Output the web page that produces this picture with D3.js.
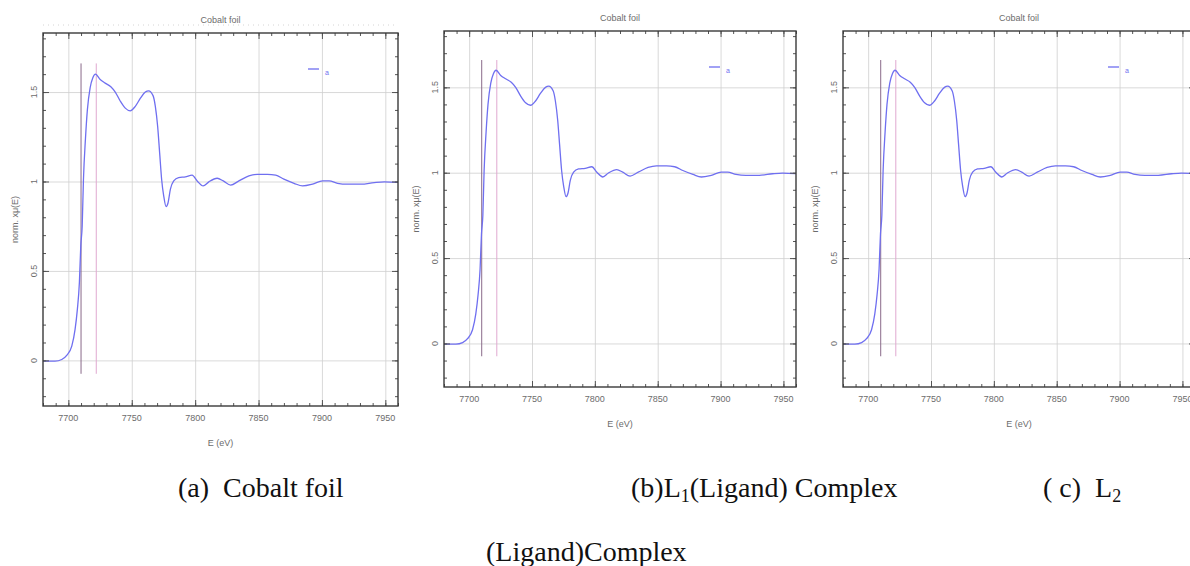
<!DOCTYPE html>
<html>
<head>
<meta charset="utf-8">
<script src="https://cdn.jsdelivr.net/npm/d3@7"></script>
<style>
  body { margin: 0; background: #fff; }
  svg { display: block; }
  .small { font-family: "Liberation Sans", Arial, sans-serif; font-size: 9px; fill: #6c6c6c; }
  .caption { font-family: "Liberation Serif", "Times New Roman", serif; font-size: 28px; fill: #111; }
</style>
</head>
<body>
<div id="root"></div>
<script>
// The same normalised Co K-edge trace is shown in all three panels
const energy = [7680, 7689.5, 7694.8, 7698.7, 7702.7, 7705.3, 7707.1, 7708.7, 7709.8, 7710.9,
  7711.9, 7713.5, 7715, 7717.2, 7719.3, 7721.4, 7725.1, 7729, 7733.5, 7737,
  7740.9, 7744.9, 7748.8, 7752.8, 7756.7, 7760.7, 7763.3, 7766.8, 7768.6, 7770.4,
  7772, 7773.6, 7775.2, 7777.1, 7778.6, 7780.5, 7783.1, 7787, 7792.3, 7797.6,
  7801.6, 7806.3, 7810.8, 7817.4, 7822.2, 7828, 7834.5, 7842.4, 7849, 7857,
  7863.5, 7870, 7878, 7884.7, 7892.6, 7900.5, 7905.7, 7912.3, 7920.2, 7930.8,
  7941.3, 7949.2, 7961];
const normMu = [-0.004, -0.004, 0.005, 0.028, 0.08, 0.173, 0.285, 0.435, 0.64, 0.75,
  1.01, 1.24, 1.40, 1.525, 1.58, 1.60, 1.57, 1.55, 1.53, 1.50,
  1.45, 1.41, 1.395, 1.42, 1.464, 1.50, 1.507, 1.48, 1.42, 1.31,
  1.16, 1.01, 0.92, 0.86, 0.88, 0.957, 1.003, 1.022, 1.026, 1.035,
  1.003, 0.975, 0.998, 1.018, 1.003, 0.98, 1.003, 1.031, 1.04, 1.04,
  1.035, 1.013, 0.99, 0.975, 0.985, 1.003, 1.003, 0.99, 0.985, 0.985,
  0.994, 0.998, 0.994];

const markerEnergies = [7710, 7722];   // vertical markers (E0 and peak)
const markerRange = [-0.075, 1.66];
const xTickValues = [7700, 7750, 7800, 7850, 7900, 7950];
const yTickValues = [0, 0.5, 1, 1.5];
const yTickLabels = ['0', '0.5', '1', '1.5'];
const xDomain = [7680, 7960];
const yDomain = [-0.255, 1.83];

const panelTitles = ['Cobalt foil', 'Cobalt foil', 'Cobalt foil'];
const legendLabels = ['a', 'a', 'a'];

// frame boxes of the three plots
const panels = [
  { left: 43, top: 33, width: 355, height: 373 },
  { left: 444, top: 31, width: 352, height: 356 },
  { left: 843, top: 31, width: 352, height: 356 },
];

const width = 1190;
const height = 566;

const svg = d3.select('#root')
  .append('svg')
  .attr('width', width)
  .attr('height', height);

const points = energy.map((e, i) => ({ e, v: normMu[i] }));

function drawPanel(box, idx) {
  const x = d3.scaleLinear().domain(xDomain).range([0, box.width]);
  const y = d3.scaleLinear().domain(yDomain).range([box.height, 0]);
  const g = svg.append('g').attr('transform', `translate(${box.left}, ${box.top})`);

  // faint dotted line above the first frame
  if (idx === 0) {
    g.append('line')
      .attr('x1', 0).attr('x2', box.width)
      .attr('y1', -8).attr('y2', -8)
      .attr('stroke', '#d4d4d4')
      .attr('stroke-dasharray', '1,4');
  }

  // grid
  const grid = g.append('g').attr('class', 'grid');
  grid.append('g')
    .attr('transform', `translate(0, ${box.height})`)
    .call(d3.axisBottom(x).tickValues(xTickValues).tickSize(-box.height).tickFormat(''));
  grid.append('g')
    .call(d3.axisLeft(y).tickValues(yTickValues).tickSize(-box.width).tickFormat(''));
  grid.selectAll('.domain').remove();
  grid.selectAll('line').attr('stroke', '#cfcfcf').attr('stroke-width', 0.8);

  // vertical markers
  const markerColors = ['#8a6a8a', '#e0a8d0'];
  markerEnergies.forEach((e, i) => {
    g.append('line')
      .attr('x1', x(e)).attr('x2', x(e))
      .attr('y1', y(markerRange[0])).attr('y2', y(markerRange[1]))
      .attr('stroke', markerColors[i])
      .attr('stroke-width', 1);
  });

  // trace
  const line = d3.line()
    .x(d => x(d.e))
    .y(d => y(d.v))
    .curve(d3.curveMonotoneX);
  const clipId = `clip${idx}`;
  g.append('clipPath').attr('id', clipId)
    .append('rect').attr('width', box.width).attr('height', box.height);
  g.append('path')
    .datum(points)
    .attr('clip-path', `url(#${clipId})`)
    .attr('fill', 'none')
    .attr('stroke', '#6f6ff0')
    .attr('stroke-width', 1.3)
    .attr('d', line);

  // inward ticks on all four sides
  const minorX = d3.range(7680, 7961, 10);
  const minorY = d3.range(-0.2, 1.81, 0.1);
  const ticks = g.append('g').attr('class', 'ticks');
  const sides = [
    [d3.axisBottom(x), `translate(0, ${box.height})`, minorX, xTickValues],
    [d3.axisTop(x), 'translate(0, 0)', minorX, xTickValues],
    [d3.axisLeft(y), 'translate(0, 0)', minorY, yTickValues],
    [d3.axisRight(y), `translate(${box.width}, 0)`, minorY, yTickValues],
  ];
  sides.forEach(([axis, tr, minor, major]) => {
    ticks.append('g').attr('transform', tr)
      .call(axis.tickValues(minor).tickSize(-3).tickFormat(''));
    ticks.append('g').attr('transform', tr)
      .call(axis.tickValues(major).tickSize(-6).tickFormat(''));
  });
  ticks.selectAll('.domain').remove();
  ticks.selectAll('line').attr('stroke', '#555').attr('stroke-width', 1);

  // frame
  g.append('rect')
    .attr('width', box.width).attr('height', box.height)
    .attr('fill', 'none')
    .attr('stroke', '#3a3a3a')
    .attr('stroke-width', 1.4);

  // tick labels
  g.selectAll('.xlab')
    .data(xTickValues)
    .enter().append('text')
    .attr('class', 'small')
    .attr('x', d => x(d))
    .attr('y', box.height + 15)
    .attr('text-anchor', 'middle')
    .text(d => d);
  g.selectAll('.ylab')
    .data(yTickValues)
    .enter().append('text')
    .attr('class', 'small')
    .attr('transform', d => `translate(-6, ${y(d)}) rotate(-90)`)
    .attr('text-anchor', 'middle')
    .text((d, i) => yTickLabels[i]);

  // axis titles
  g.append('text')
    .attr('class', 'small')
    .attr('x', box.width / 2)
    .attr('y', box.height + 40)
    .attr('text-anchor', 'middle')
    .text('E (eV)');
  g.append('text')
    .attr('class', 'small')
    .attr('transform', `translate(-25, ${box.height / 2}) rotate(-90)`)
    .attr('text-anchor', 'middle')
    .text('norm. xμ(E)');
  g.append('text')
    .attr('class', 'small')
    .attr('x', box.width / 2)
    .attr('y', -10)
    .attr('text-anchor', 'middle')
    .text(panelTitles[idx]);

  // legend
  const lx = x(7680) + 265;
  const ly = 36;
  g.append('line')
    .attr('x1', lx).attr('x2', lx + 11)
    .attr('y1', ly).attr('y2', ly)
    .attr('stroke', '#6f6ff0').attr('stroke-width', 1.3);
  g.append('text')
    .attr('x', lx + 17).attr('y', ly + 6)
    .attr('font-family', 'Liberation Sans, sans-serif')
    .attr('font-size', 7)
    .attr('fill', '#6f6ff0')
    .text(legendLabels[idx]);
}

panels.forEach(drawPanel);

// captions below the plots
const cap = svg.append('g').attr('class', 'caption');
cap.append('text').attr('class', 'caption').attr('x', 178).attr('y', 497)
  .attr('xml:space', 'preserve')
  .text('(a)  Cobalt foil');

const capB = cap.append('text').attr('class', 'caption').attr('x', 631).attr('y', 497);
capB.append('tspan').text('(b)L');
capB.append('tspan').attr('font-size', 18).attr('dy', 5).text('1');
capB.append('tspan').attr('dy', -5).text('(Ligand) Complex');

const capC = cap.append('text').attr('class', 'caption').attr('x', 1043).attr('y', 497)
  .attr('xml:space', 'preserve');
capC.append('tspan').text('( c)  L');
capC.append('tspan').attr('font-size', 18).attr('dy', 5).text('2');

cap.append('text').attr('class', 'caption').attr('x', 486).attr('y', 561)
  .text('(Ligand)Complex');
</script>
</body>
</html>
